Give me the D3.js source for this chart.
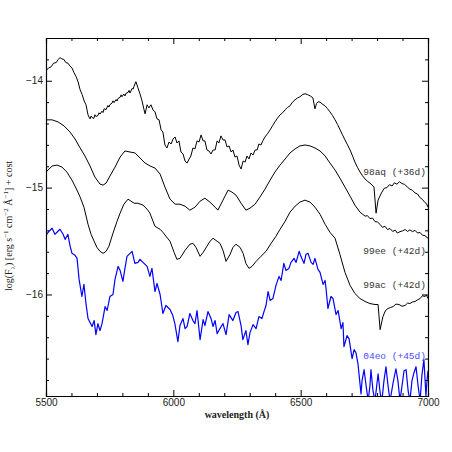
<!DOCTYPE html>
<html>
<head>
<meta charset="utf-8">
<script src="https://cdn.jsdelivr.net/npm/d3@7"></script>
<style>
  body { margin: 0; background: #fff; }
  svg { display: block; }
</style>
</head>
<body>
<svg id="chart" width="452" height="452"></svg>
<script>
// spectra, [wavelength (A), log flux + offset]
var sn98aq = [
  [5500,-13.906],[5510,-13.880],[5520,-13.870],[5530,-13.835],[5540,-13.830],[5548,-13.800],
  [5555,-13.784],[5562,-13.795],[5570,-13.800],[5578,-13.830],[5586,-13.835],[5594,-13.862],
  [5602,-13.880],[5610,-13.925],[5618,-13.960],[5626,-14.010],[5634,-14.085],[5642,-14.130],
  [5650,-14.190],[5657,-14.225],[5665,-14.319],[5669,-14.340],[5673,-14.357],[5677,-14.330],
  [5681,-14.345],[5688,-14.352],[5692,-14.318],[5696,-14.335],[5704,-14.325],[5708,-14.300],
  [5712,-14.312],[5720,-14.285],[5724,-14.298],[5728,-14.262],[5736,-14.270],[5743,-14.232],
  [5747,-14.246],[5751,-14.224],[5759,-14.210],[5763,-14.188],[5767,-14.205],[5775,-14.176],
  [5779,-14.190],[5783,-14.165],[5791,-14.155],[5795,-14.132],[5798,-14.150],[5806,-14.125],
  [5810,-14.142],[5814,-14.118],[5822,-14.110],[5826,-14.090],[5830,-14.115],[5838,-14.072],
  [5842,-14.078],[5846,-14.050],[5853,-14.009],[5861,-14.066],[5869,-14.122],[5877,-14.188],
  [5885,-14.272],[5889,-14.310],[5897,-14.225],[5904,-14.254],[5912,-14.225],[5920,-14.272],
  [5928,-14.291],[5936,-14.357],[5944,-14.366],[5952,-14.460],[5959,-14.479],[5967,-14.601],
  [5975,-14.629],[5983,-14.573],[5991,-14.592],[5999,-14.545],[6007,-14.526],[6014,-14.582],
  [6022,-14.563],[6030,-14.667],[6038,-14.685],[6046,-14.751],[6054,-14.770],[6062,-14.732],
  [6069,-14.704],[6077,-14.629],[6085,-14.638],[6093,-14.563],[6101,-14.573],[6109,-14.507],
  [6117,-14.563],[6124,-14.563],[6132,-14.648],[6140,-14.657],[6148,-14.685],[6156,-14.648],
  [6164,-14.648],[6172,-14.563],[6179,-14.582],[6187,-14.516],[6195,-14.554],[6203,-14.554],
  [6211,-14.620],[6219,-14.610],[6227,-14.667],[6234,-14.648],[6242,-14.714],[6250,-14.704],
  [6258,-14.789],[6266,-14.826],[6274,-14.751],[6282,-14.761],[6289,-14.704],[6297,-14.732],
  [6305,-14.676],[6313,-14.695],[6321,-14.648],[6329,-14.648],[6336,-14.592],[6344,-14.601],
  [6352,-14.560],[6360,-14.526],[6370,-14.495],[6380,-14.460],[6390,-14.420],[6399,-14.385],
  [6409,-14.350],[6419,-14.319],[6429,-14.300],[6439,-14.272],[6448,-14.250],[6458,-14.235],
  [6468,-14.200],[6478,-14.178],[6488,-14.160],[6497,-14.150],[6507,-14.130],[6517,-14.122],
  [6527,-14.130],[6537,-14.141],[6548,-14.160],[6556,-14.263],[6562,-14.215],[6568,-14.197],
  [6576,-14.200],[6584,-14.216],[6596,-14.235],[6605,-14.260],[6615,-14.291],[6625,-14.325],
  [6635,-14.366],[6645,-14.410],[6655,-14.460],[6664,-14.505],[6674,-14.554],[6684,-14.600],
  [6694,-14.648],[6704,-14.705],[6713,-14.761],[6723,-14.810],[6733,-14.854],[6743,-14.890],
  [6753,-14.920],[6762,-14.940],[6772,-14.958],[6780,-14.975],[6788,-14.995],[6796,-15.239],
  [6804,-15.117],[6811,-15.080],[6819,-15.042],[6829,-15.005],[6839,-15.000],[6849,-14.972],
  [6859,-14.985],[6868,-14.955],[6878,-14.968],[6888,-14.945],[6898,-14.962],[6908,-14.970],
  [6918,-14.992],[6929,-15.015],[6939,-15.025],[6949,-15.050],[6959,-15.060],[6969,-15.095],
  [6978,-15.110],[6988,-15.140],[6994,-15.150],[7000,-15.183]
];

var sn99ee = [
  [5500,-14.366],[5524,-14.366],[5547,-14.385],[5571,-14.423],[5594,-14.479],[5614,-14.545],
  [5634,-14.629],[5653,-14.704],[5673,-14.798],[5692,-14.901],[5712,-14.967],[5724,-14.977],
  [5736,-14.958],[5751,-14.892],[5771,-14.808],[5791,-14.714],[5810,-14.657],[5830,-14.667],
  [5850,-14.676],[5869,-14.723],[5889,-14.770],[5909,-14.798],[5928,-14.817],[5948,-14.873],
  [5967,-14.995],[5987,-15.108],[6007,-15.155],[6026,-15.155],[6046,-15.174],[6065,-15.211],
  [6085,-15.183],[6105,-15.127],[6124,-15.099],[6144,-15.136],[6164,-15.183],[6175,-15.211],
  [6195,-15.117],[6215,-15.023],[6230,-15.042],[6246,-15.070],[6266,-15.146],[6285,-15.211],
  [6301,-15.192],[6321,-15.155],[6340,-15.089],[6360,-15.014],[6380,-14.930],[6399,-14.854],
  [6419,-14.789],[6439,-14.732],[6458,-14.676],[6478,-14.638],[6497,-14.610],[6517,-14.601],
  [6537,-14.610],[6556,-14.629],[6576,-14.657],[6596,-14.704],[6615,-14.770],[6635,-14.836],
  [6654,-14.911],[6674,-14.995],[6694,-15.080],[6713,-15.164],[6733,-15.230],[6753,-15.267],
  [6762,-15.262],[6772,-15.290],[6782,-15.285],[6792,-15.318],[6802,-15.322],[6812,-15.345],
  [6821,-15.372],[6831,-15.362],[6841,-15.392],[6851,-15.383],[6861,-15.410],[6871,-15.398],
  [6880,-15.425],[6890,-15.412],[6900,-15.405],[6910,-15.392],[6920,-15.410],[6929,-15.395],
  [6939,-15.412],[6949,-15.400],[6959,-15.425],[6969,-15.420],[6978,-15.445],[6988,-15.450],
  [7000,-15.474]
];

var sn99ac = [
  [5500,-14.855],[5524,-14.798],[5543,-14.789],[5563,-14.808],[5582,-14.855],[5602,-14.930],
  [5618,-15.005],[5634,-15.089],[5649,-15.183],[5665,-15.343],[5677,-15.437],[5689,-15.502],
  [5700,-15.559],[5712,-15.596],[5724,-15.615],[5736,-15.596],[5747,-15.549],[5763,-15.427],
  [5779,-15.315],[5791,-15.239],[5806,-15.155],[5822,-15.108],[5834,-15.127],[5846,-15.146],
  [5861,-15.146],[5881,-15.164],[5897,-15.202],[5908,-15.239],[5928,-15.362],[5948,-15.390],
  [5959,-15.418],[5971,-15.455],[5987,-15.502],[6003,-15.606],[6014,-15.671],[6026,-15.662],
  [6046,-15.587],[6065,-15.530],[6077,-15.521],[6089,-15.559],[6105,-15.643],[6117,-15.606],
  [6132,-15.549],[6144,-15.502],[6156,-15.474],[6172,-15.502],[6183,-15.521],[6195,-15.587],
  [6207,-15.690],[6223,-15.624],[6234,-15.559],[6246,-15.530],[6262,-15.559],[6274,-15.615],
  [6285,-15.709],[6297,-15.756],[6309,-15.737],[6325,-15.690],[6344,-15.643],[6364,-15.596],
  [6384,-15.521],[6403,-15.455],[6419,-15.390],[6439,-15.315],[6458,-15.230],[6478,-15.174],
  [6497,-15.136],[6517,-15.117],[6537,-15.136],[6556,-15.183],[6576,-15.249],[6596,-15.343],
  [6615,-15.418],[6635,-15.474],[6654,-15.624],[6674,-15.793],[6694,-15.915],[6713,-15.991],
  [6733,-16.038],[6753,-16.066],[6772,-16.085],[6792,-16.094],[6804,-16.094],[6812,-16.329],
  [6823,-16.207],[6833,-16.150],[6843,-16.131],[6853,-16.122],[6863,-16.113],[6874,-16.090],
  [6886,-16.094],[6898,-16.110],[6910,-16.103],[6920,-16.080],[6929,-16.085],[6939,-16.070],
  [6949,-16.066],[6959,-16.050],[6969,-16.038],[6978,-16.012],[6988,-16.019],[6994,-16.005],
  [7000,-16.038]
];

var sn04eo = [
  [5503,-15.437],[5512,-15.408],[5524,-15.380],[5535,-15.437],[5547,-15.408],[5555,-15.390],
  [5567,-15.437],[5575,-15.484],[5586,-15.437],[5594,-15.540],[5602,-15.615],[5614,-15.634],
  [5622,-15.662],[5630,-15.859],[5641,-16.019],[5649,-15.906],[5657,-16.085],[5665,-16.225],
  [5673,-16.263],[5681,-16.300],[5689,-16.244],[5696,-16.376],[5704,-16.272],[5712,-16.338],
  [5720,-16.272],[5732,-16.113],[5740,-16.150],[5751,-16.019],[5763,-16.000],[5771,-15.859],
  [5783,-15.737],[5791,-15.775],[5802,-15.878],[5810,-15.756],[5818,-15.643],[5830,-15.615],
  [5838,-15.596],[5849,-15.709],[5861,-15.700],[5869,-15.671],[5881,-15.700],[5897,-15.737],
  [5908,-15.831],[5916,-15.756],[5928,-15.972],[5936,-15.897],[5948,-16.000],[5959,-16.178],
  [5971,-16.103],[5987,-16.141],[5998,-16.197],[6006,-16.272],[6018,-16.441],[6026,-16.291],
  [6038,-16.225],[6046,-16.319],[6054,-16.300],[6065,-16.178],[6077,-16.244],[6085,-16.272],
  [6093,-16.150],[6105,-16.423],[6117,-16.235],[6124,-16.291],[6136,-16.160],[6148,-16.225],
  [6156,-16.300],[6164,-16.244],[6172,-16.366],[6183,-16.319],[6195,-16.272],[6207,-16.376],
  [6219,-16.188],[6234,-16.244],[6246,-16.169],[6254,-16.160],[6266,-16.291],[6273,-16.423],
  [6285,-16.338],[6293,-16.469],[6301,-16.357],[6313,-16.282],[6325,-16.319],[6336,-16.207],
  [6348,-16.225],[6356,-16.160],[6364,-16.103],[6372,-15.972],[6380,-16.056],[6391,-16.038],
  [6403,-15.915],[6415,-15.831],[6423,-15.869],[6434,-15.709],[6442,-15.775],[6454,-15.756],
  [6462,-15.700],[6474,-15.662],[6482,-15.700],[6494,-15.596],[6501,-15.643],[6513,-15.709],
  [6521,-15.624],[6529,-15.615],[6541,-15.700],[6549,-15.718],[6556,-15.662],[6568,-15.765],
  [6576,-15.793],[6588,-15.906],[6596,-15.869],[6600,-15.953],[6607,-16.131],[6619,-16.019],
  [6627,-16.038],[6639,-16.188],[6647,-16.150],[6659,-16.319],[6666,-16.263],[6670,-16.488],
  [6682,-16.385],[6690,-16.413],[6702,-16.601],[6710,-16.516],[6717,-16.545],[6725,-16.648],
  [6737,-16.930],[6741,-16.808],[6749,-16.704],[6757,-16.854],[6765,-16.995],[6772,-16.854],
  [6776,-16.704],[6784,-16.901],[6792,-16.995],[6804,-16.742],[6812,-16.920],[6819,-16.995],
  [6827,-16.808],[6835,-16.676],[6843,-16.854],[6851,-16.995],[6863,-16.826],[6874,-16.695],
  [6882,-16.808],[6890,-16.995],[6898,-16.854],[6906,-16.714],[6914,-16.704],[6922,-16.901],
  [6929,-16.995],[6937,-16.808],[6945,-16.732],[6953,-16.676],[6961,-16.854],[6969,-16.995],
  [6976,-16.760],[6984,-16.610],[6992,-16.948],[6996,-16.808],[7000,-16.714]
];

var seriesNames = ["98aq (+36d)", "99ee (+42d)", "99ac (+42d)", "04eo (+45d)"];
var seriesData = [sn98aq, sn99ee, sn99ac, sn04eo];
var xMajorTicks = [5500, 6000, 6500, 7000];
var yMajorTicks = [-14, -15, -16];

var colors = ["#000", "#000", "#000", "#0000ff"];
var labelColors = ["#333", "#333", "#333", "#4a4aff"];
var labelY = [-14.88, -15.62, -15.94, -16.60];   // baseline, in data units

var margin = {top: 38, right: 24, bottom: 56, left: 46},
    width = 452 - margin.left - margin.right,
    height = 452 - margin.top - margin.bottom;

var svg = d3.select("#chart");
var g = svg.append("g")
    .attr("transform", "translate(" + margin.left + "," + margin.top + ")");

var x = d3.scaleLinear().domain([5500, 7000]).range([0, width]);
var y = d3.scaleLinear().domain([-16.95, -13.6]).range([height, 0]);

svg.append("defs").append("clipPath")
    .attr("id", "clip")
  .append("rect")
    .attr("width", width)
    .attr("height", height);

var line = d3.line()
    .x(function (d) {return x(d[0])})
    .y(function (d) {return y(d[1])});

g.append("g")
    .attr("clip-path", "url(#clip)")
  .selectAll("path")
  .data(seriesData)
  .enter()
  .append("path")
    .attr("d", line)
    .attr("fill", "none")
    .attr("stroke", function (d, i) {return colors[i]})
    .attr("stroke-width", function (d, i) {return i == 3 ? 1.2 : 1})
    .attr("stroke-linejoin", "round");

// ticks point inward, on all four sides
var xMinor = d3.range(5500, 7001, 100).filter(function (v) {return v % 500 != 0});
var yMinor = d3.range(-16.8, -13.6, 0.2).filter(function (v) {return Math.abs(v - Math.round(v)) > 0.01});

function fmt(v) {return d3.format("d")(v).replace("-", "\u2212")}

var axes = [
  d3.axisBottom(x).tickValues(xMajorTicks).tickSize(-6).tickFormat(d3.format("d")),
  d3.axisTop(x).tickValues(xMajorTicks).tickSize(-6).tickFormat(""),
  d3.axisLeft(y).tickValues(yMajorTicks).tickSize(-6).tickFormat(fmt),
  d3.axisRight(y).tickValues(yMajorTicks).tickSize(-6).tickFormat("")
];
var minorAxes = [
  d3.axisBottom(x).tickValues(xMinor).tickSize(-3).tickFormat(""),
  d3.axisTop(x).tickValues(xMinor).tickSize(-3).tickFormat(""),
  d3.axisLeft(y).tickValues(yMinor).tickSize(-3).tickFormat(""),
  d3.axisRight(y).tickValues(yMinor).tickSize(-3).tickFormat("")
];
var shifts = ["translate(0," + height + ")", null, null, "translate(" + width + ",0)"];

axes.forEach(function (a, i) {
  [a, minorAxes[i]].forEach(function (ax) {
    var sel = g.append("g").attr("transform", shifts[i]).call(ax);
    sel.select(".domain").attr("stroke", "#000").attr("stroke-width", 1.1);
    sel.selectAll(".tick line").attr("stroke", "#000");
    sel.selectAll(".tick text")
        .attr("fill", "#222")
        .style("font-family", "'Liberation Sans', Arial, sans-serif")
        .style("font-size", "10px");
  });
});

// spectrum labels
g.selectAll("text.lbl")
  .data(seriesNames)
  .enter()
  .append("text")
    .attr("class", "lbl")
    .attr("x", x(6992))
    .attr("y", function (d, i) {return y(labelY[i])})
    .attr("text-anchor", "end")
    .attr("fill", function (d, i) {return labelColors[i]})
    .style("font-family", "'Liberation Mono', 'DejaVu Sans Mono', monospace")
    .style("font-size", "9.5px")
    .text(function (d) {return d});

// axis titles
svg.append("text")
    .attr("x", margin.left + width / 2)
    .attr("y", 418)
    .attr("text-anchor", "middle")
    .style("font-family", "'Liberation Serif', 'DejaVu Serif', serif")
    .style("font-size", "10px")
    .style("font-weight", "bold")
    .attr("fill", "#222")
    .text("wavelength (\u00c5)");

var ytitle = svg.append("text")
    .attr("transform", "translate(12," + 226 + ") rotate(-90)")
    .attr("text-anchor", "middle")
    .style("font-family", "'Liberation Serif', 'DejaVu Serif', serif")
    .style("font-size", "10px")
    .attr("fill", "#222");
ytitle.append("tspan").text("log(F");
ytitle.append("tspan").attr("dy", 2.5).style("font-size", "7px").text("\u03bb");
ytitle.append("tspan").attr("dy", -2.5).text(") [erg s");
ytitle.append("tspan").attr("dy", -4).style("font-size", "7px").text("\u22121");
ytitle.append("tspan").attr("dy", 4).text(" cm");
ytitle.append("tspan").attr("dy", -4).style("font-size", "7px").text("\u22122");
ytitle.append("tspan").attr("dy", 4).text(" \u00c5");
ytitle.append("tspan").attr("dy", -4).style("font-size", "7px").text("\u22121");
ytitle.append("tspan").attr("dy", 4).text("] + cost");
</script>
</body>
</html>
